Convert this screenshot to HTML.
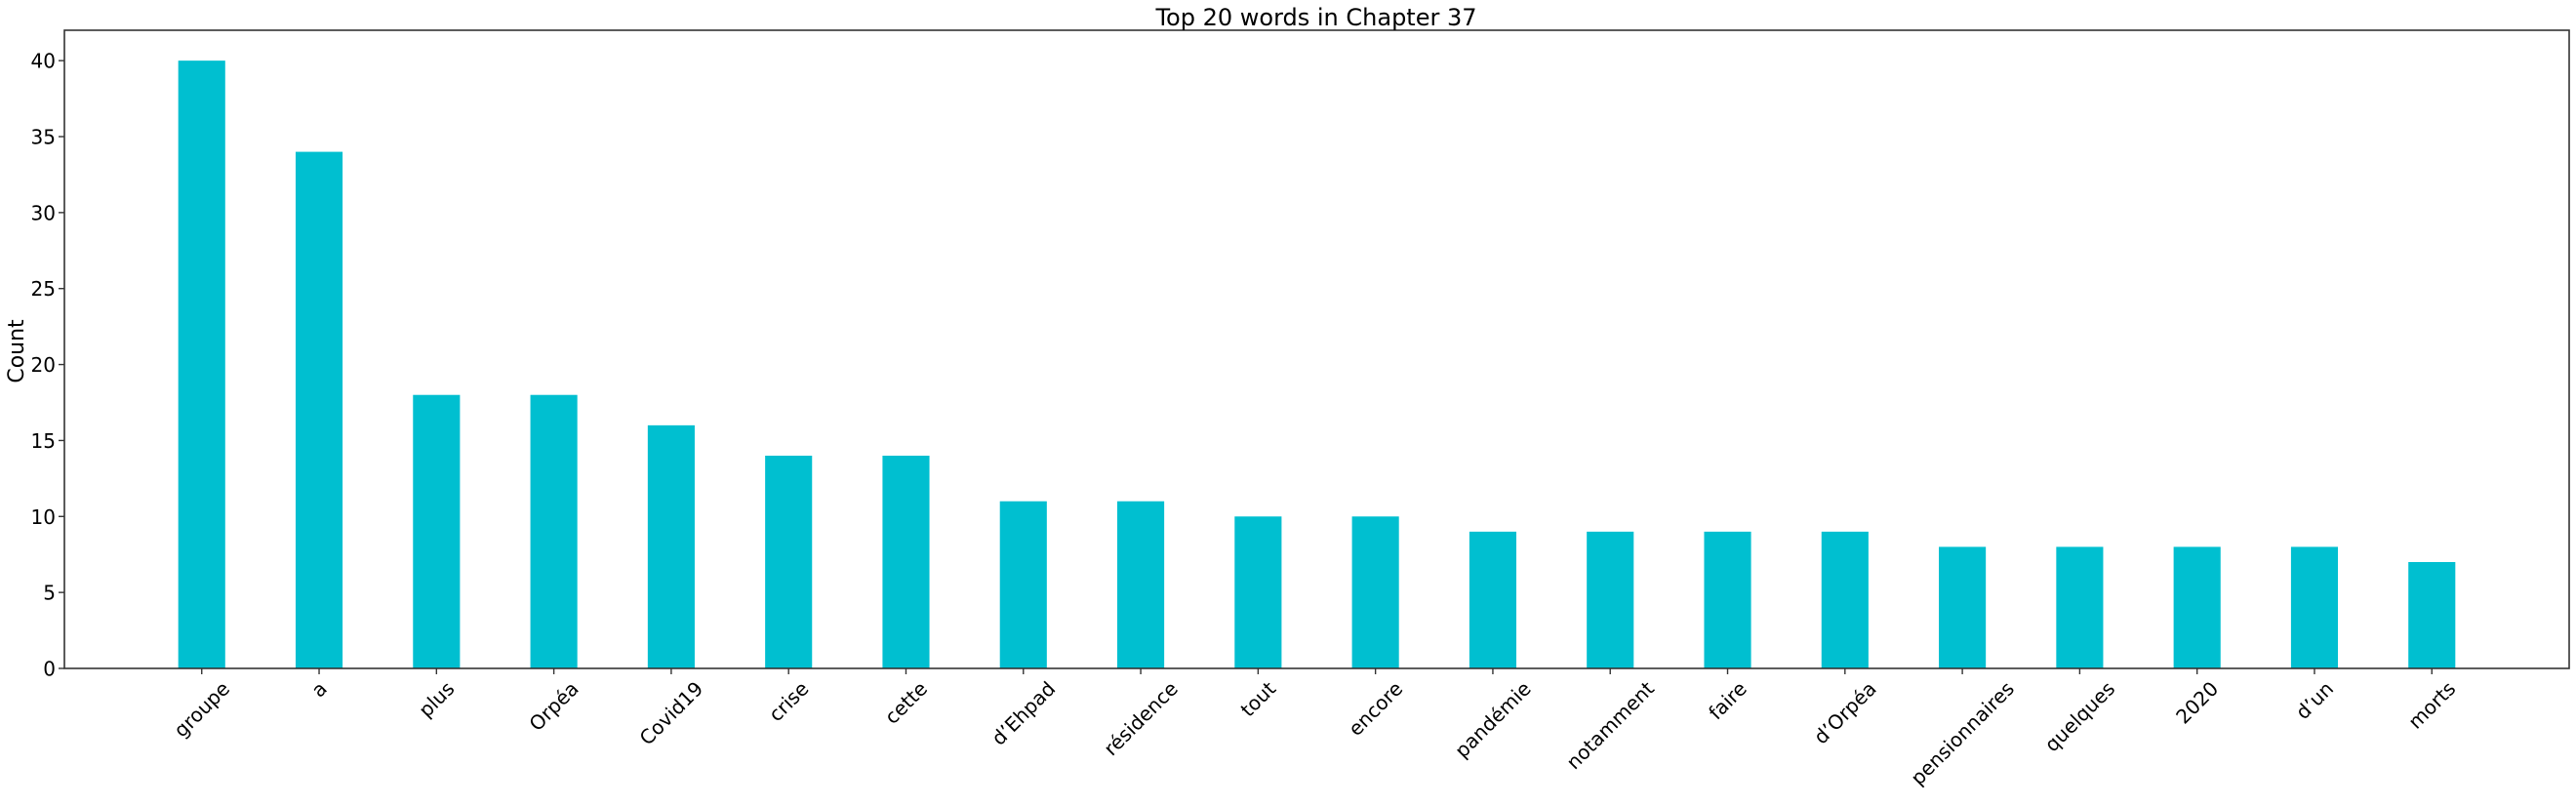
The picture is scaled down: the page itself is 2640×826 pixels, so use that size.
<!DOCTYPE html>
<html><head><meta charset="utf-8"><style>
html,body{margin:0;padding:0;background:#fff;}
svg text{font-family:"DejaVu Sans","Liberation Sans",sans-serif;fill:#000;}
</style></head><body>
<svg id="chart" width="2640" height="821" xmlns="http://www.w3.org/2000/svg">
<g id="bars"></g>
<g id="yticks"></g>
<g id="xticks"></g>
<rect x="66" y="31" width="2567" height="654" fill="none" stroke="#333" stroke-width="1.6"/>
<text x="1349" y="26" text-anchor="middle" font-size="24">Top 20 words in Chapter 37</text>
<text x="0" y="0" text-anchor="middle" font-size="22" transform="translate(24,360) rotate(-90)">Count</text>
</svg>
<script>
const categories = ["groupe","a","plus","Orpéa","Covid19","crise","cette","d’Ehpad","résidence","tout","encore","pandémie","notamment","faire","d’Orpéa","pensionnaires","quelques","2020","d’un","morts"];
const counts = [40,34,18,18,16,14,14,11,11,10,10,9,9,9,9,8,8,8,8,7];
const yTicks = [0,5,10,15,20,25,30,35,40];

const L=66,R=2633,T=31,B=685;
const xMin=-1.17,xMax=categories.length-1+1.17,yMax=42;
const xs=i=>L+(i-xMin)/(xMax-xMin)*(R-L);
const ys=v=>B-v/yMax*(B-T);
const NS="http://www.w3.org/2000/svg";
const step=(R-L)/(xMax-xMin), bw=0.4*step;
const gb=document.getElementById('bars'), gy=document.getElementById('yticks'), gx=document.getElementById('xticks');
counts.forEach((v,i)=>{
  const r=document.createElementNS(NS,'rect');
  
  
  r.setAttribute('x',xs(i)-bw/2);r.setAttribute('y',ys(v));
  r.setAttribute('width',bw);r.setAttribute('height',B-ys(v));
  r.setAttribute('fill','#00bfd0');
  gb.appendChild(r);
});
yTicks.forEach(t=>{
  const y=ys(t);
  const l=document.createElementNS(NS,'line');
  
  
  l.setAttribute('x1',L-6);l.setAttribute('x2',L);l.setAttribute('y1',y);l.setAttribute('y2',y);
  l.setAttribute('stroke','#333');l.setAttribute('stroke-width','1.4');
  gy.appendChild(l);
  const tx=document.createElementNS(NS,'text');
  
  
  tx.setAttribute('x',L-9);tx.setAttribute('y',y+7.5);
  tx.setAttribute('text-anchor','end');tx.setAttribute('font-size','20');
  tx.textContent=t;
  gy.appendChild(tx);
});
categories.forEach((c,i)=>{
  const x=xs(i);
  const l=document.createElementNS(NS,'line');
  
  
  l.setAttribute('x1',x);l.setAttribute('x2',x);l.setAttribute('y1',B);l.setAttribute('y2',B+6);
  l.setAttribute('stroke','#333');l.setAttribute('stroke-width','1.4');
  gx.appendChild(l);
  const tx=document.createElementNS(NS,'text');
  
  
  tx.setAttribute('text-anchor','middle');tx.setAttribute('font-size','20');
  tx.setAttribute('x',0);tx.setAttribute('y',7);
  tx.textContent=c;
  gx.appendChild(tx);
  const w=tx.getComputedTextLength();
  const h=(w+20)*0.7071;
  tx.setAttribute('transform','translate('+x+','+(B+10+h/2)+') rotate(-45)');
});
</script>
</body></html>
